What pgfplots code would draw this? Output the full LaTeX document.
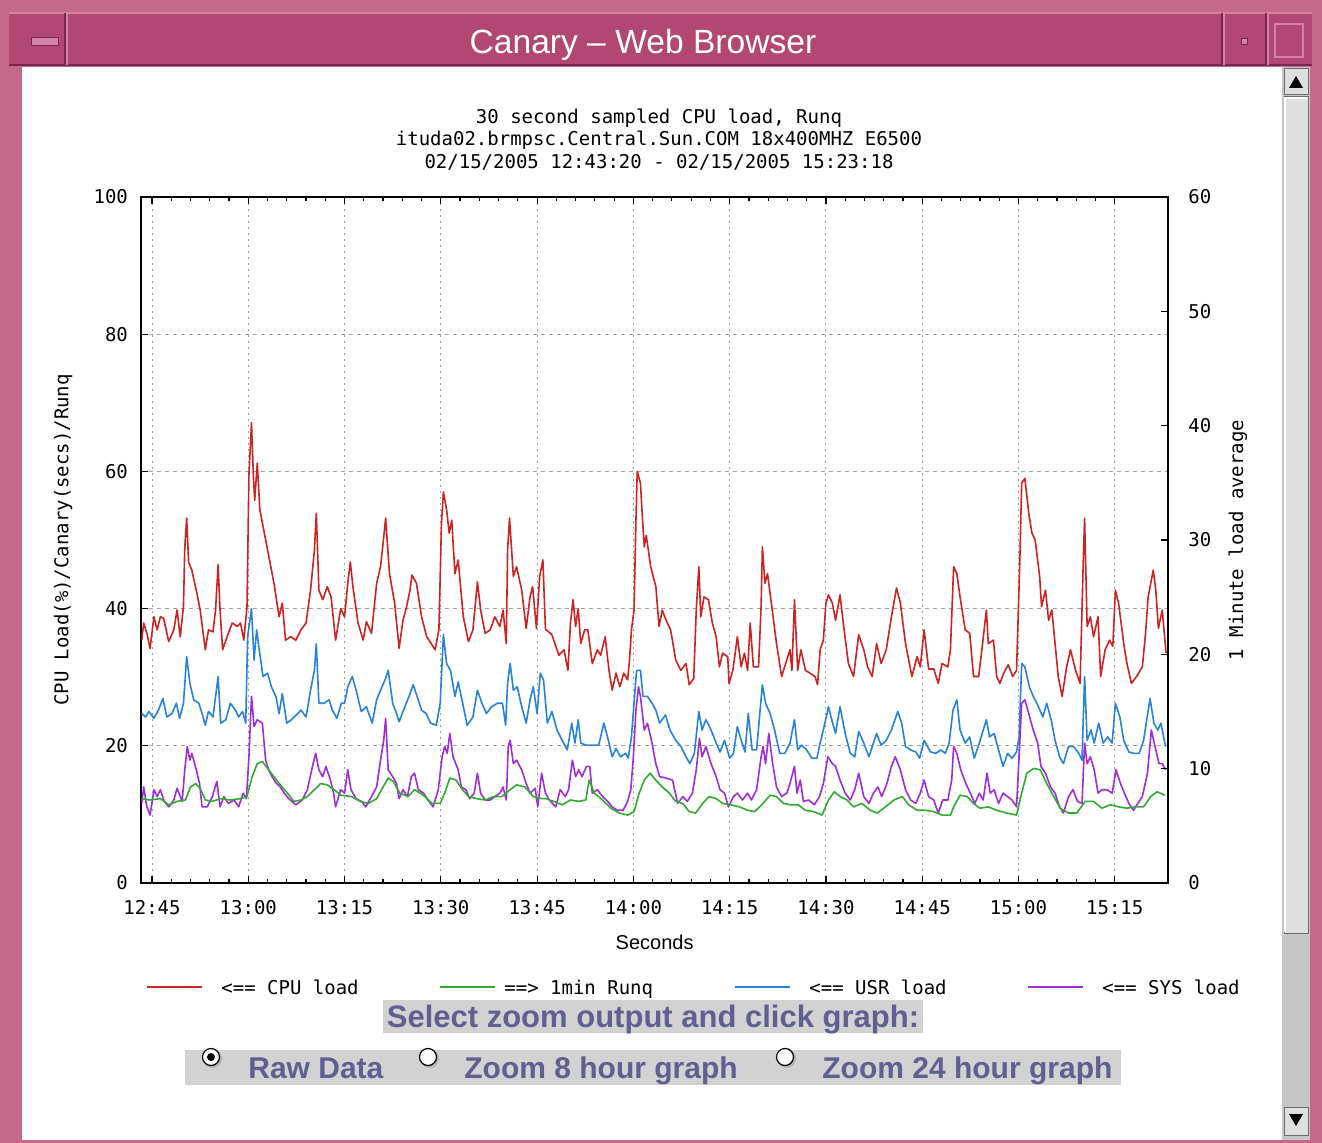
\documentclass[border=0pt]{standalone}
\usepackage{fontspec}
\setmainfont{DejaVu Sans Mono}
\newfontfamily\sansf{Liberation Sans}
\usepackage{pgfplots}
\pgfplotsset{compat=1.18}
\definecolor{cpuc}{RGB}{205,35,35}
\definecolor{runqc}{RGB}{50,170,50}
\definecolor{usrc}{RGB}{40,130,215}
\definecolor{sysc}{RGB}{160,45,215}
\definecolor{framepink}{RGB}{196,104,140}
\definecolor{titlebar}{RGB}{178,72,114}
\definecolor{titlelight}{RGB}{214,130,164}
\definecolor{titledark}{RGB}{120,40,75}
\definecolor{slate}{RGB}{95,95,145}
\definecolor{boxgray}{RGB}{210,210,210}
\newcommand{\tickfont}{\fontsize{9.5}{11}\selectfont}
\begin{document}
\begin{tikzpicture}
\begin{scope}[x=0.5pt,y=-0.5pt]
\useasboundingbox (0,0) rectangle (1322,1143);
\fill[framepink] (0,0) rectangle (1322,1143);
\fill[titlebar] (9,13) rectangle (1312,65);
\draw[titlelight,line width=0.6pt] (9,13) -- (1312,13);
\draw[titledark,line width=0.6pt] (9,65) -- (1312,65);
\draw[titlelight,line width=0.6pt] (67,13) -- (67,65);
\draw[titledark,line width=0.6pt] (65,13) -- (65,65);
\draw[titlelight,line width=0.6pt] (1224,13) -- (1224,65);
\draw[titledark,line width=0.6pt] (1222,13) -- (1222,65);
\draw[titlelight,line width=0.6pt] (1268,13) -- (1268,65);
\draw[titledark,line width=0.6pt] (1266,13) -- (1266,65);
\draw[titledark,fill=titlelight,line width=0.5pt] (31,38) rectangle (58,46);
\draw[titledark,fill=titlelight,line width=0.5pt] (1241,39) rectangle (1247,45);
\draw[titlelight,line width=0.7pt] (1275,24) rectangle (1303,57);
\node[anchor=base,text=white,font=\sansf\fontsize{16.8}{18}\selectfont,inner sep=0pt] at (643,54) {Canary – Web Browser};
% content
\fill[white] (22,67) rectangle (1282,1140);
% scrollbar
\fill[gray!45] (1282,67) rectangle (1310,1140);
\draw[gray!85!black,fill=gray!25,line width=0.5pt] (1284,69) rectangle (1308,95);
\fill[black] (1289,88) -- (1303,88) -- (1296,76) -- cycle;
\draw[gray!85!black,fill=gray!25,line width=0.5pt] (1284,97) rectangle (1308,933);
\draw[white,line width=0.6pt] (1285,932) -- (1285,98) -- (1307,98);
\draw[gray!85!black,fill=gray!25,line width=0.5pt] (1284,1107) rectangle (1308,1135);
\fill[black] (1289,1114) -- (1303,1114) -- (1296,1126) -- cycle;
% chart titles
\node[anchor=base,inner sep=0pt,font=\tickfont] at (659,124) {30 second sampled CPU load, Runq};
\node[anchor=base,inner sep=0pt,font=\tickfont] at (659,146) {ituda02.brmpsc.Central.Sun.COM 18x400MHZ E6500};
\node[anchor=base,inner sep=0pt,font=\tickfont] at (659,169) {02/15/2005 12:43:20 - 02/15/2005 15:23:18};
\end{scope}

\begin{axis}[
  scale only axis, width=513.35pt, height=343pt,
  at={(70.65pt,-441.5pt)}, anchor=south west,
  xmin=43.33, xmax=203.3, ymin=0, ymax=100,
  xtick={45,60,75,90,105,120,135,150,165,180,195},
  xticklabels={12:45,13:00,13:15,13:30,13:45,14:00,14:15,14:30,14:45,15:00,15:15},
  minor x tick num=4,
  ytick={0,20,40,60,80,100},
  ytick pos=left, xtick pos=both,
  tick align=inside,
  major tick length=3.5pt, minor tick length=2pt,
  axis line style={line width=0.9pt},
  every tick/.style={black,line width=0.6pt},
  grid=major,
  x grid style={gray!75,line width=0.5pt,dash pattern=on 1pt off 2pt},
  y grid style={gray!75,line width=0.5pt,dash pattern=on 2pt off 2pt},
  tick label style={font=\tickfont},
  /pgf/number format/assume math mode=true,
  yticklabel style={inner sep=0pt,xshift=-6.5pt},
  xticklabel style={inner sep=0pt,yshift=-8.5pt},
  xlabel={Seconds},
  xlabel style={font=\sansf\fontsize{10}{12}\selectfont,at={(axis description cs:0.5,-0.086)},anchor=center},
  ylabel={CPU Load(\%)/Canary(secs)/Runq},
  ylabel style={font=\tickfont,at={(axis description cs:-0.076,0.5)},anchor=center},
  every axis plot/.append style={line width=0.8pt,line join=round},
]
\addplot[cpuc] table {
43.4 35.4
43.7 37.9
44.2 36.4
44.7 34.2
45.3 38.8
45.8 36.9
46.3 38.8
46.8 38.6
47.6 35.2
48.4 36.9
48.9 39.8
49.4 35.9
49.9 40.3
50.1 48.8
50.4 53.2
50.7 46.8
51.2 45.6
52.0 42.2
52.5 39.8
53.3 34.0
53.8 36.9
54.5 36.6
54.9 39.8
55.3 46.4
55.6 39.8
56.0 34.0
56.7 35.9
57.5 37.9
58.3 37.4
58.8 37.9
59.3 35.4
59.8 40.3
60.1 59.5
60.5 67.1
60.8 59.2
61.0 55.8
61.4 61.2
61.8 54.4
62.4 51.5
63.2 47.6
64.0 43.7
64.8 38.8
65.3 40.8
65.8 35.4
66.6 35.9
67.4 35.4
68.2 36.9
69.0 37.9
69.7 42.7
70.3 48.5
70.6 53.9
71.0 42.7
71.6 41.3
72.3 43.2
72.9 41.7
73.6 35.4
74.4 40.0
75.0 38.8
75.5 43.7
75.9 46.8
76.3 43.2
77.1 37.9
77.9 35.4
78.4 38.1
79.2 36.4
80.0 43.7
80.6 46.1
81.0 49.5
81.4 53.2
82.0 45.1
82.8 40.8
83.5 34.2
84.1 38.3
84.6 40.0
85.2 42.7
85.5 44.9
86.2 43.7
87.0 38.8
87.8 35.9
88.5 34.9
89.1 34.0
89.7 36.9
90.1 52.4
90.4 57.0
90.9 54.4
91.3 51.0
91.7 52.9
92.2 45.1
92.7 47.1
93.5 38.8
94.3 35.2
95.0 36.9
95.7 43.9
96.2 39.8
96.9 36.4
97.7 36.9
98.4 38.8
99.2 37.4
99.7 39.8
100.2 34.9
100.4 48.5
100.7 53.2
101.3 44.7
101.8 46.1
102.6 42.7
103.3 37.1
103.9 41.7
104.3 43.2
104.9 37.1
105.4 44.7
105.9 47.1
106.3 37.0
107.3 36.2
108.4 33.2
109.2 34.0
109.8 31.0
110.2 37.9
110.6 41.3
111.0 37.4
111.4 40.0
111.8 34.9
112.4 36.9
112.9 36.9
113.6 32.0
114.4 34.0
114.9 33.2
115.6 35.9
116.2 31.0
116.7 28.1
117.3 30.6
117.9 28.6
118.5 30.6
119.1 29.6
119.4 32.5
119.7 36.9
120.1 39.8
120.4 52.9
120.6 60.0
121.1 58.3
121.4 53.4
121.7 49.0
122.0 50.7
122.7 46.1
123.5 43.2
124.0 37.4
124.5 39.8
125.1 38.3
125.8 36.9
126.6 32.5
127.4 31.0
128.2 32.0
128.7 28.9
129.4 29.8
129.8 39.8
130.2 46.1
130.5 38.8
131.0 41.7
131.7 41.3
132.3 37.9
132.9 35.9
133.4 31.5
133.9 33.5
134.7 33.0
134.9 29.1
135.5 31.0
136.2 35.9
136.8 31.5
137.3 33.5
137.8 31.0
138.2 37.9
138.7 31.5
139.5 31.5
139.9 40.3
140.1 49.0
140.5 43.7
140.9 45.1
141.5 40.8
142.3 34.9
143.1 30.1
143.9 32.5
144.4 34.0
144.7 31.0
145.1 41.3
145.6 31.0
146.1 34.0
146.8 31.0
147.5 30.6
148.3 30.1
148.7 28.9
149.1 34.0
149.6 35.4
150.0 40.8
150.4 42.0
151.0 40.8
151.5 38.3
152.2 42.0
152.7 37.9
153.5 32.0
154.3 30.1
155.1 36.2
155.9 34.0
156.5 31.5
157.2 30.1
157.9 34.9
158.6 32.0
159.4 34.0
160.2 38.8
161.0 43.0
161.6 40.8
162.4 34.9
163.4 30.1
164.2 33.0
164.7 31.5
165.3 36.9
166.0 31.2
166.8 31.2
167.5 29.1
168.1 32.0
169.0 31.5
169.4 34.0
169.9 46.1
170.4 45.1
170.9 41.7
171.7 36.9
172.4 36.4
173.0 30.1
173.8 30.1
174.3 34.0
175.0 39.8
175.3 34.9
176.1 35.4
176.6 30.1
177.1 29.1
177.7 30.6
178.4 31.8
179.1 30.1
179.7 31.0
180.2 46.6
180.5 58.3
181.0 59.0
181.6 53.9
182.1 51.0
182.6 50.0
183.3 44.7
183.6 40.3
184.2 42.7
184.7 38.3
185.2 39.8
185.7 34.9
186.2 30.1
186.8 27.2
187.5 31.5
188.1 34.0
188.9 31.0
189.6 29.1
190.1 47.1
190.3 53.2
190.7 37.4
191.2 38.8
191.7 35.9
192.4 38.8
192.8 30.1
193.5 34.0
194.2 35.4
194.7 34.5
195.1 42.7
195.6 40.8
196.4 34.9
196.9 32.0
197.6 29.1
198.4 30.1
199.3 31.5
199.8 36.4
200.2 41.7
201.0 45.6
201.4 42.7
201.8 37.1
202.4 39.8
203.0 33.5
};
\addplot[usrc] table {
43.4 24.7
44.0 24.2
44.5 25.0
45.3 24.0
46.0 25.2
46.7 26.9
47.3 24.2
48.1 24.7
48.8 26.2
49.3 24.0
49.9 26.2
50.4 33.0
50.9 29.1
51.5 26.7
52.3 26.2
52.8 24.7
53.3 23.0
53.8 25.0
54.5 24.2
55.3 30.1
55.7 23.3
56.5 23.8
57.2 26.2
58.0 25.2
58.5 24.2
59.1 25.0
59.6 23.3
59.9 35.9
60.5 40.0
60.9 32.5
61.3 36.9
61.7 34.0
62.3 30.1
63.0 30.6
63.6 28.6
64.3 27.2
64.8 24.7
65.3 27.6
66.0 23.3
66.7 23.8
67.5 24.5
68.2 25.2
69.0 24.2
69.7 28.1
70.3 31.0
70.6 34.9
71.0 26.2
71.8 26.2
72.6 26.7
73.1 25.2
73.8 24.0
74.5 26.2
75.0 26.2
75.5 28.6
76.2 30.1
76.8 28.1
77.6 25.0
78.4 25.7
79.3 23.3
80.0 26.7
80.6 28.1
81.3 29.6
81.8 31.0
82.5 26.2
83.1 24.7
83.5 23.5
84.4 25.7
85.2 27.6
85.7 28.9
86.3 27.2
87.0 25.2
87.7 24.7
88.4 23.3
89.3 23.0
89.9 26.2
90.4 36.2
90.9 32.0
91.5 31.0
92.2 27.2
92.7 29.3
93.4 26.2
94.1 23.0
95.0 24.2
95.7 28.1
96.4 26.2
97.1 24.7
97.9 25.7
98.8 26.2
99.6 26.2
100.1 23.0
100.4 29.1
100.8 32.0
101.3 28.1
101.9 28.6
102.6 25.7
103.3 23.3
103.9 26.7
104.4 28.6
105.0 24.7
105.5 30.6
106.0 29.6
106.6 23.3
107.3 25.0
108.1 22.3
108.9 20.8
109.7 19.4
110.4 23.3
110.9 20.4
111.4 23.8
111.8 20.4
112.6 20.1
113.6 20.1
114.6 20.1
115.4 23.3
116.1 20.8
116.7 18.4
117.3 19.6
118.0 18.4
118.8 18.9
119.2 18.2
119.7 21.3
120.1 26.2
120.5 31.0
121.1 31.0
121.5 27.2
122.2 27.2
122.9 26.2
123.5 25.2
124.1 23.3
125.0 24.5
125.7 22.3
126.6 20.8
127.4 19.9
128.2 18.4
128.8 17.4
129.5 18.9
130.2 25.0
130.7 22.3
131.3 23.8
132.1 22.3
132.9 20.4
133.5 19.1
134.2 20.8
135.0 18.2
135.6 18.9
136.2 22.8
136.8 20.8
137.4 19.1
137.9 24.7
138.5 19.4
139.2 19.4
139.7 24.7
140.1 28.9
140.6 26.2
141.3 24.7
142.0 22.3
142.8 18.9
143.6 18.9
144.4 20.4
145.1 23.8
145.6 19.4
146.2 20.1
147.0 19.4
147.8 18.2
148.6 18.2
149.1 20.4
149.6 22.3
150.4 25.7
150.9 23.8
151.5 21.8
152.2 25.7
153.0 21.8
153.8 18.9
154.5 18.4
155.1 22.1
155.9 20.4
156.7 18.4
157.4 20.4
157.9 21.8
158.6 20.1
159.4 20.8
160.2 22.3
161.2 25.0
161.8 23.3
162.4 19.9
163.2 19.4
164.0 19.1
164.6 18.2
165.3 20.8
166.3 19.1
167.1 18.9
167.9 19.4
168.6 18.9
169.2 20.4
169.8 25.2
170.4 26.7
170.9 22.3
171.7 20.4
172.4 21.3
173.1 18.2
173.9 20.4
175.0 23.8
175.5 21.3
176.2 21.8
176.9 19.4
177.6 17.0
178.3 18.9
179.0 18.2
179.7 19.1
180.1 21.3
180.5 32.0
181.0 31.5
181.7 28.6
182.3 27.2
183.1 25.7
183.8 24.2
184.4 26.2
185.1 23.8
185.7 20.8
186.4 18.4
187.0 17.4
187.8 19.9
188.6 19.9
189.4 18.9
189.9 17.9
190.3 30.1
190.7 20.8
191.3 22.3
191.8 20.4
192.5 23.3
193.2 20.4
193.9 21.3
194.6 20.4
195.1 26.2
195.8 24.2
196.4 20.8
197.2 19.1
198.0 18.9
198.8 18.9
199.5 20.8
200.5 26.9
201.1 23.3
201.7 22.3
202.2 23.3
202.9 19.9
};
\addplot[sysc] table {
43.4 11.6
43.7 14.0
44.2 11.1
44.7 9.9
45.3 13.6
45.8 12.6
46.3 13.6
46.9 11.9
47.6 11.1
48.4 12.1
48.9 13.8
49.7 11.9
50.1 16.5
50.5 19.9
50.9 17.9
51.2 18.9
51.9 16.5
52.4 14.5
52.8 11.1
53.6 11.1
54.4 12.6
55.1 14.8
55.6 11.1
56.2 12.6
56.9 11.6
57.8 12.1
58.5 11.1
59.2 13.1
59.7 12.3
60.1 18.4
60.5 27.2
60.9 22.8
61.4 23.8
62.2 23.3
62.7 17.9
63.2 16.5
63.7 15.5
64.4 14.5
65.0 14.0
65.6 13.1
66.3 12.3
67.4 11.4
68.4 12.1
69.2 13.6
70.0 17.0
70.5 18.9
71.0 16.5
71.6 15.5
72.1 17.0
72.8 15.0
73.3 13.1
73.6 11.1
74.4 13.6
75.0 13.1
75.5 16.5
76.0 13.6
76.8 12.3
77.6 11.9
78.3 11.1
79.2 12.6
80.0 14.0
80.6 17.9
81.1 20.8
81.4 24.0
81.8 16.5
82.5 15.5
83.1 14.5
83.5 12.3
84.1 13.6
84.8 12.6
85.4 15.5
85.9 16.0
86.5 13.6
87.3 13.1
88.0 12.1
88.8 11.1
89.6 13.6
90.2 18.4
90.6 19.9
91.0 18.9
91.4 21.8
91.9 18.4
92.7 16.5
93.2 14.0
93.9 13.6
94.5 12.3
95.2 13.1
95.7 16.0
96.2 13.1
96.9 12.1
97.7 12.1
98.4 12.6
99.2 13.1
99.7 14.0
100.2 12.1
100.5 19.9
100.8 20.8
101.3 17.4
101.8 17.9
102.6 16.5
103.3 14.5
103.9 13.1
104.7 13.8
105.1 11.1
105.7 16.0
106.3 13.1
106.9 12.1
107.9 11.1
108.6 13.6
109.4 12.6
109.9 13.6
110.5 17.9
111.0 15.5
111.5 16.5
112.0 15.5
112.7 17.0
113.2 17.0
113.6 13.1
114.4 13.6
115.2 12.6
116.0 11.9
116.7 11.1
117.5 10.6
118.4 10.6
119.1 11.9
119.6 13.6
120.0 18.4
120.4 25.2
120.8 28.6
121.1 27.2
121.7 22.3
122.2 23.3
122.9 20.4
123.5 17.4
124.1 15.5
125.1 15.3
126.1 15.0
126.9 11.6
127.7 12.6
128.4 11.9
129.2 13.1
129.8 16.5
130.3 21.1
130.7 18.4
131.3 19.9
132.1 17.4
132.9 15.5
133.5 13.6
134.2 13.1
134.8 11.1
135.6 12.6
136.2 13.1
137.0 12.1
137.8 13.1
138.4 12.1
139.2 13.6
139.9 18.4
140.2 19.9
140.6 17.4
141.1 21.8
141.7 17.4
142.3 14.0
143.1 12.6
143.9 13.1
144.4 14.5
145.1 17.0
145.5 13.1
146.0 15.0
146.5 11.9
147.3 12.1
148.2 11.4
149.0 12.6
149.6 14.5
150.3 18.4
151.0 17.4
151.5 17.0
152.2 15.0
153.0 13.1
153.8 12.1
154.5 13.6
155.1 16.0
155.9 12.6
156.7 11.6
157.4 13.1
158.1 14.0
158.7 12.6
159.5 14.5
160.2 17.0
160.8 18.4
161.6 16.5
162.4 13.6
163.2 12.1
164.0 11.6
164.7 13.1
165.3 15.0
166.0 12.6
166.8 12.1
167.5 10.2
168.2 12.1
169.0 12.1
169.6 15.0
169.9 19.9
170.4 18.9
171.0 16.5
171.8 14.5
172.5 13.1
173.2 11.6
173.9 13.1
174.5 12.1
175.1 16.0
175.6 13.1
176.2 13.6
176.9 11.6
177.6 13.1
178.3 12.6
179.0 12.1
179.7 11.1
180.2 20.4
180.5 26.2
181.0 26.7
181.6 24.7
182.3 22.3
183.0 20.4
183.5 17.0
184.2 16.0
185.0 14.0
185.7 13.1
186.4 11.1
187.0 10.2
187.8 12.6
188.5 13.6
189.2 11.9
189.9 11.6
190.3 20.4
190.7 17.4
191.2 18.4
191.8 16.5
192.4 13.1
193.0 13.6
193.8 13.6
194.6 13.1
195.2 16.5
195.9 14.5
196.5 13.1
197.2 11.6
197.9 10.6
198.6 11.6
199.3 12.6
200.1 16.0
200.7 22.3
201.4 19.4
201.9 17.4
202.4 17.4
202.9 16.5
};
\end{axis}

\begin{axis}[
  scale only axis, width=513.35pt, height=343pt,
  at={(70.65pt,-441.5pt)}, anchor=south west,
  xmin=43.33, xmax=203.3, ymin=0, ymax=60,
  axis x line=none,
  axis y line*=right,
  ytick={0,10,20,30,40,50,60},
  tick align=inside,
  major tick length=3.5pt,
  axis line style={line width=0.9pt,-},
  every tick/.style={black,line width=0.6pt},
  tick label style={font=\tickfont},
  /pgf/number format/assume math mode=true,
  yticklabel style={inner sep=0pt,xshift=10pt,anchor=west},
  ylabel={1 Minute load average},
  ylabel style={font=\tickfont,at={(axis description cs:1.068,0.5)},anchor=center,rotate=0},
  every axis plot/.append style={line width=0.8pt,line join=round},
]
\addplot[runqc] table {
43.4 7.38
44.7 7.26
46.3 7.38
47.6 6.84
48.9 7.14
50.2 7.26
51.0 8.40
51.8 8.70
52.5 8.28
53.3 7.26
54.4 7.14
55.7 7.38
57.2 7.26
58.8 7.38
59.8 7.56
60.6 9.30
61.4 10.44
62.2 10.62
63.0 10.02
64.0 9.30
65.0 8.58
66.1 7.86
67.1 7.14
68.2 7.26
69.2 7.56
70.3 8.16
71.3 8.70
72.3 8.58
73.4 8.16
74.4 7.68
76.1 7.56
77.4 7.14
78.7 6.96
80.0 7.38
81.0 8.40
81.8 9.18
82.6 8.88
83.6 7.86
84.9 7.56
85.9 8.16
87.3 7.68
88.6 6.96
89.9 6.96
90.6 7.86
91.4 9.18
92.4 9.00
93.2 8.28
94.3 7.56
95.6 7.38
96.9 7.26
98.2 7.56
99.5 7.56
100.8 8.16
101.8 8.58
103.1 8.40
104.4 7.56
105.7 7.38
106.3 7.38
107.6 7.14
108.9 6.84
110.2 7.26
111.5 7.14
112.6 7.26
113.1 9.00
113.9 7.86
115.2 7.26
116.5 6.54
117.8 6.12
119.1 5.94
120.1 6.24
120.9 7.86
121.7 9.00
122.6 9.60
123.5 9.00
124.5 8.40
125.6 7.86
126.6 7.14
127.7 6.96
128.7 6.24
129.7 6.12
130.8 6.96
131.8 7.56
132.9 7.38
133.9 6.96
135.2 6.84
136.5 6.66
137.8 6.36
138.9 6.24
140.2 6.96
141.3 7.68
142.3 7.56
143.4 6.96
144.4 6.84
145.7 6.84
146.8 6.36
148.1 6.24
149.4 5.94
150.4 7.26
151.3 7.98
152.2 7.56
153.3 7.26
154.3 6.66
155.6 6.96
156.9 6.36
158.0 6.12
159.3 6.66
160.6 7.26
161.9 7.56
162.9 6.84
164.2 6.36
165.5 6.36
166.8 6.24
168.1 5.94
169.4 5.94
169.9 6.66
170.9 7.68
172.0 7.56
173.0 6.96
174.0 6.54
175.3 6.66
176.6 6.36
178.2 6.12
179.7 5.94
180.5 7.86
181.3 9.60
182.4 10.02
183.4 9.90
184.4 8.70
185.5 7.56
186.5 6.54
187.8 6.12
189.1 6.12
190.4 7.14
191.7 7.14
193.0 6.54
194.3 6.84
195.6 6.66
196.9 6.54
198.2 6.66
199.5 6.66
200.6 7.56
201.6 7.98
202.8 7.68
};
\end{axis}

\begin{scope}[x=0.5pt,y=-0.5pt]
% legend
\draw[cpuc,line width=0.8pt] (147,987) -- (202,987);
\node[anchor=base west,inner sep=0pt,font=\tickfont] at (221,994) {<== CPU load};
\draw[runqc,line width=0.8pt] (440,987) -- (495,987);
\node[anchor=base west,inner sep=0pt,font=\tickfont] at (504,994) {==> 1min Runq};
\draw[usrc,line width=0.8pt] (735,987) -- (790,987);
\node[anchor=base west,inner sep=0pt,font=\tickfont] at (809,994) {<== USR load};
\draw[sysc,line width=0.8pt] (1028,987) -- (1083,987);
\node[anchor=base west,inner sep=0pt,font=\tickfont] at (1102,994) {<== SYS load};
% controls
\fill[boxgray] (383,1000) rectangle (923,1033);
\node[anchor=base,inner sep=0pt,text=slate,font=\sansf\bfseries\fontsize{15.5}{17}\selectfont] at (653,1027) {Select zoom output and click graph:};
\fill[boxgray] (185,1050) rectangle (1121,1085);
\foreach \cx in {211,428,785} {
  \fill[gray!60] (\cx+1.5,1058.5) circle (9.5);
  \draw[black,fill=white,line width=0.6pt] (\cx,1057) circle (8.5);
}
\fill[black] (211,1057) circle (4);
\node[anchor=base west,inner sep=0pt,text=slate,font=\sansf\bfseries\fontsize{15}{17}\selectfont] at (248,1078) {Raw Data};
\node[anchor=base west,inner sep=0pt,text=slate,font=\sansf\bfseries\fontsize{15}{17}\selectfont] at (464,1078) {Zoom 8 hour graph};
\node[anchor=base west,inner sep=0pt,text=slate,font=\sansf\bfseries\fontsize{15}{17}\selectfont] at (822,1078) {Zoom 24 hour graph};
\end{scope}
\end{tikzpicture}
\end{document}
